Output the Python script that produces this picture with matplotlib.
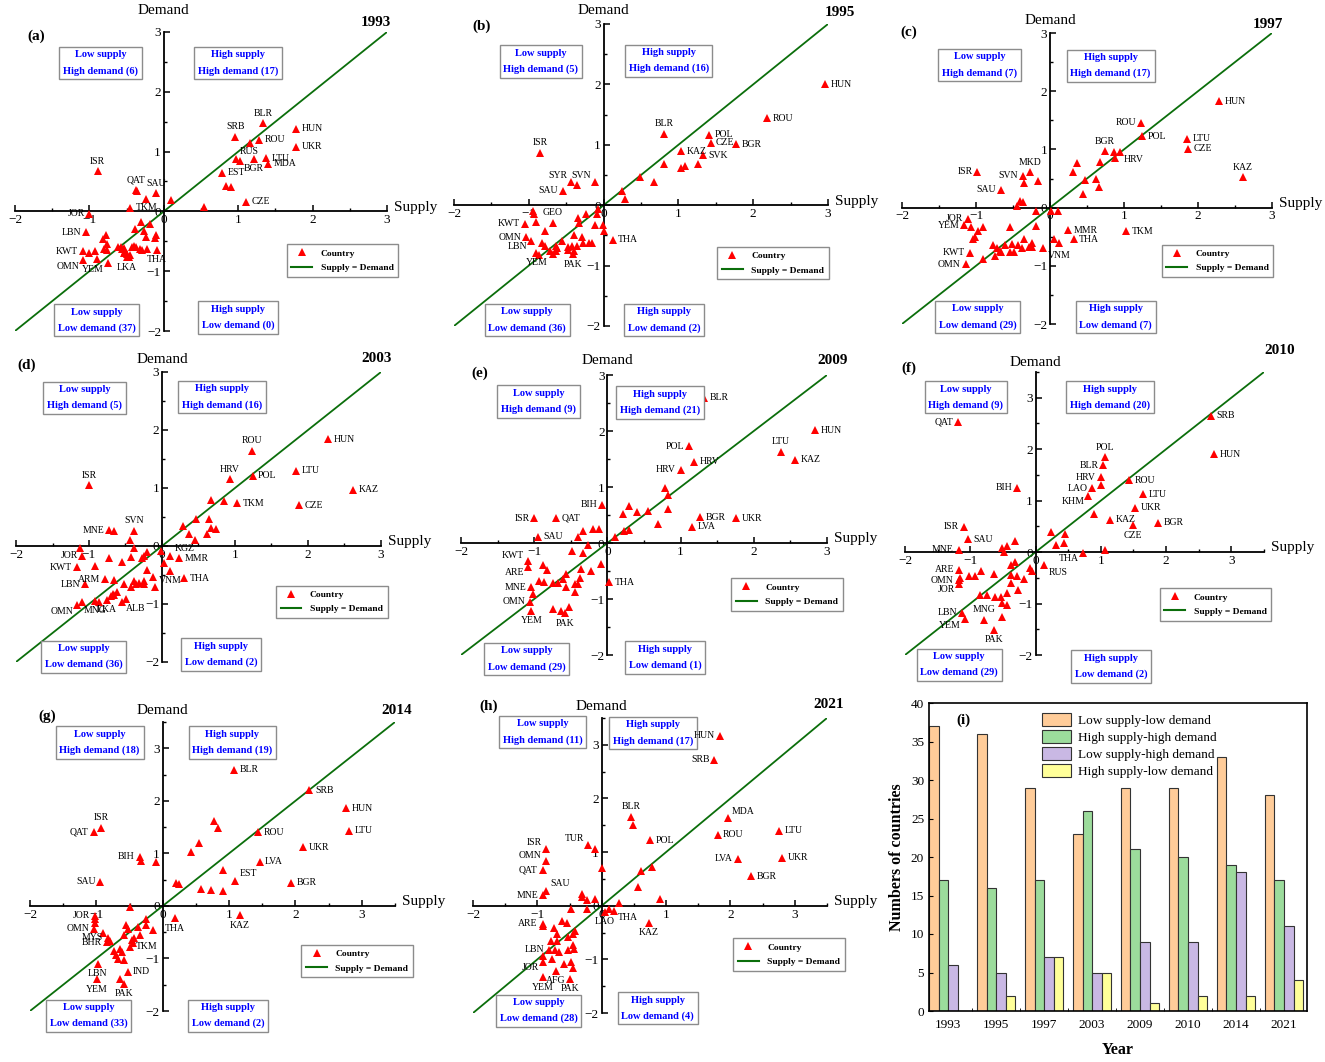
import matplotlib.pyplot as plt
import numpy as np
from matplotlib.lines import Line2D
from matplotlib.ticker import MultipleLocator

plt.rcParams['font.family'] = ['Liberation Serif', 'DejaVu Serif']

W, H = 1325, 1062

# ---------------- data ----------------
years = ['1993', '1995', '1997', '2003', '2009', '2010', '2014', '2021']
low_low = [37, 36, 29, 23, 29, 29, 33, 28]
high_high = [17, 16, 17, 26, 21, 20, 19, 17]
low_high = [6, 5, 7, 5, 9, 9, 18, 11]
high_low = [0, 2, 7, 5, 1, 2, 2, 4]

# quadrant counts written in the boxes: [LS-HD, HS-HD, LS-LD, HS-LD]
box_counts = {
    'a': [6, 17, 37, 0], 'b': [5, 16, 36, 2], 'c': [7, 17, 29, 7], 'd': [5, 16, 36, 2],
    'e': [9, 21, 29, 1], 'f': [9, 20, 29, 2], 'g': [18, 19, 33, 2], 'h': [11, 17, 28, 4],
}

# (a) 1993
a_lab = [('BLR', 1.34, 1.47), ('SRB', 0.96, 1.25), ('HUN', 1.78, 1.38), ('ROU', 1.28, 1.20),
         ('UKR', 1.78, 1.08), ('RUS', 0.97, 0.88), ('LTU', 1.37, 0.89), ('MDA', 1.40, 0.80),
         ('BGR', 1.21, 0.88), ('EST', 0.78, 0.65), ('CZE', 1.10, 0.16), ('ISR', -0.89, 0.67),
         ('QAT', -0.38, 0.36), ('SAU', -0.10, 0.30), ('TKM', -0.45, 0.06), ('JOR', -1.00, -0.04),
         ('LBN', -1.04, -0.35), ('KWT', -1.09, -0.67), ('OMN', -1.08, -0.82), ('YEM', -0.75, -0.87),
         ('LKA', -0.50, -0.77), ('THA', -0.09, -0.64)]
a_oth = [(1.16, 1.14), (1.03, 0.84), (0.83, 0.43), (0.90, 0.41), (0.54, 0.07), (0.10, 0.19),
         (-0.36, 0.34), (-0.24, 0.21), (-1.01, -0.69), (-0.93, -0.67), (-0.90, -0.80),
         (-0.78, -0.39), (-0.82, -0.46), (-0.77, -0.55), (-0.81, -0.63), (-0.76, -0.64),
         (-0.31, -0.18), (-0.39, -0.29), (-0.26, -0.32), (-0.18, -0.21), (-0.24, -0.42),
         (-0.12, -0.45), (-0.10, -0.39), (-0.57, -0.59), (-0.54, -0.61), (-0.52, -0.67),
         (-0.49, -0.72), (-0.47, -0.76), (-0.43, -0.60), (-0.37, -0.59), (-0.32, -0.63),
         (-0.29, -0.65), (-0.40, -0.58), (-0.45, -0.73), (-0.56, -0.63), (-0.53, -0.70),
         (-0.61, -0.59), (-0.22, -0.63)]

# (b) 1995
b_lab = [('HUN', 2.96, 2.00), ('ROU', 2.18, 1.44), ('BLR', 0.81, 1.18), ('POL', 1.41, 1.17),
         ('CZE', 1.43, 1.03), ('BGR', 1.77, 1.01), ('KAZ', 1.04, 0.89), ('SVK', 1.33, 0.83),
         ('ISR', -0.85, 0.87), ('SYR', -0.43, 0.39), ('SVN', -0.12, 0.39), ('SAU', -0.54, 0.24),
         ('GEO', -0.68, -0.29), ('KWT', -1.05, -0.31), ('OMN', -1.04, -0.53), ('LBN', -0.97, -0.59),
         ('YEM', -0.90, -0.79), ('PAK', -0.41, -0.81), ('THA', 0.12, -0.57)]
b_oth = [(1.26, 0.69), (1.09, 0.65), (1.04, 0.61), (0.81, 0.68), (0.68, 0.39), (0.48, 0.46),
         (0.24, 0.24), (0.28, 0.10), (-0.36, 0.33), (0.01, -0.42), (-0.94, -0.09), (-0.90, -0.27),
         (-0.79, -0.43), (-0.82, -0.63), (-0.79, -0.68), (-0.87, -0.82), (-0.67, -0.81),
         (-0.64, -0.76), (-0.62, -0.71), (-0.63, -0.67), (-0.56, -0.59), (-0.47, -0.69),
         (-0.48, -0.74), (-0.40, -0.76), (-0.40, -0.49), (-0.29, -0.53), (-0.27, -0.63),
         (-0.36, -0.68), (-0.16, -0.63), (-0.34, -0.22), (-0.33, -0.29), (-0.24, -0.15),
         (-0.12, -0.33), (-0.08, -0.06), (-0.09, -0.14), (-0.01, -0.32), (-0.93, -0.14),
         (-0.71, -0.76), (-0.42, -0.67), (-0.20, -0.63)]

# (c) 1997
c_lab = [('HUN', 2.28, 1.83), ('ROU', 1.23, 1.46), ('POL', 1.24, 1.23), ('LTU', 1.85, 1.18),
         ('CZE', 1.87, 1.01), ('KAZ', 2.61, 0.52), ('BGR', 0.74, 0.97), ('HRV', 0.94, 0.95),
         ('ISR', -0.98, 0.62), ('MKD', -0.27, 0.61), ('SVN', -0.37, 0.55), ('SAU', -0.66, 0.31),
         ('JOR', -1.11, -0.19), ('YEM', -1.16, -0.30), ('KWT', -1.08, -0.78), ('OMN', -1.14, -0.97),
         ('TKM', 1.03, -0.41), ('MMR', 0.24, -0.39), ('THA', 0.32, -0.54), ('VNM', -0.09, -0.70)]
c_oth = [(0.86, 0.95), (0.37, 0.77), (0.68, 0.78), (0.31, 0.62), (0.47, 0.47), (0.62, 0.49),
         (0.66, 0.36), (0.45, 0.23), (0.88, 0.85), (-0.35, 0.43), (-0.16, 0.45), (-0.41, 0.12),
         (-0.37, 0.10), (-0.44, 0.02), (0.11, -0.05), (0.05, -0.54), (0.12, -0.60), (0.01, -0.05),
         (-1.07, -0.34), (-0.91, -0.34), (-0.54, -0.33), (-0.19, -0.32), (-1.01, -0.51),
         (-1.04, -0.54), (-0.90, -0.89), (-0.74, -0.83), (-0.77, -0.64), (-0.71, -0.70),
         (-0.68, -0.74), (-0.66, -0.77), (-0.54, -0.77), (-0.48, -0.77), (-0.52, -0.63),
         (-0.43, -0.64), (-0.38, -0.70), (-0.35, -0.54), (-0.25, -0.60), (-0.24, -0.67),
         (-0.19, -0.06), (-0.61, -0.64), (-0.29, -0.67), (-0.97, -0.41)]

# (d) 2003
d_lab = [('HUN', 2.28, 1.84), ('ROU', 1.23, 1.64), ('HRV', 0.93, 1.15), ('POL', 1.24, 1.21),
         ('LTU', 1.84, 1.30), ('KAZ', 2.62, 0.97), ('CZE', 1.88, 0.70), ('TKM', 1.03, 0.74),
         ('ISR', -1.00, 1.05), ('MNE', -0.72, 0.27), ('SVN', -0.38, 0.26), ('JOR', -1.09, -0.17),
         ('KWT', -1.17, -0.37), ('ARM', -0.78, -0.57), ('LBN', -1.05, -0.66), ('LKA', -0.76, -0.93),
         ('ALB', -0.55, -0.96), ('OMN', -1.16, -1.02), ('MNG', -0.92, -0.94), ('KGZ', 0.11, -0.17),
         ('MMR', 0.23, -0.21), ('VNM', 0.11, -0.43), ('THA', 0.30, -0.56)]
d_oth = [(0.67, 0.79), (0.85, 0.77), (0.47, 0.47), (0.65, 0.47), (0.29, 0.35), (0.37, 0.21),
         (0.45, 0.10), (0.67, 0.31), (0.74, 0.30), (0.62, 0.20), (-0.66, 0.25), (-0.44, 0.10),
         (0.03, -0.30), (-0.01, -0.09), (-1.12, -0.03), (-0.92, -0.35), (-0.72, -0.21),
         (-0.55, -0.27), (-0.42, -0.19), (-0.38, -0.03), (-0.28, -0.20), (-0.25, -0.17),
         (-0.20, -0.11), (-0.20, -0.41), (-0.66, -0.59), (-0.52, -0.66), (-0.43, -0.70),
         (-0.38, -0.61), (-0.35, -0.65), (-0.25, -0.60), (-0.10, -0.70), (-0.67, -0.82),
         (-0.66, -0.85), (-0.70, -0.87), (-0.49, -0.91), (-1.09, -0.96), (-0.25, -0.65),
         (-0.86, -0.97), (-0.61, -0.80), (-0.31, -0.63), (-0.12, -0.54)]

# (e) 2009
e_lab = [('BLR', 1.32, 2.59), ('HUN', 2.84, 2.01), ('LTU', 2.37, 1.63), ('KAZ', 2.56, 1.49),
         ('POL', 1.12, 1.73), ('HRV', 1.18, 1.45), ('HRV', 1.00, 1.31), ('BIH', -0.07, 0.68),
         ('ISR', -1.00, 0.44), ('QAT', -0.70, 0.44), ('SAU', -0.95, 0.11), ('BGR', 1.26, 0.46),
         ('LVA', 1.16, 0.29), ('UKR', 1.76, 0.44), ('KWT', -1.09, -0.33), ('ARE', -1.08, -0.43),
         ('MNE', -1.04, -0.79), ('OMN', -1.06, -1.05), ('YEM', -1.04, -1.21), ('PAK', -0.58, -1.25),
         ('THA', 0.02, -0.70)]
e_oth = [(0.79, 0.98), (0.83, 0.86), (0.83, 0.61), (0.29, 0.66), (0.21, 0.52), (0.40, 0.55),
         (0.56, 0.58), (0.69, 0.34), (0.23, 0.22), (0.29, 0.24), (0.11, 0.10), (-0.34, 0.21),
         (-0.19, 0.25), (-0.11, 0.25), (-0.40, 0.10), (-0.88, -0.40), (-0.83, -0.49),
         (-0.48, -0.14), (-0.33, -0.18), (-0.27, -0.03), (-0.09, -0.37), (-0.22, -0.50),
         (-0.36, -0.46), (-0.57, -0.56), (-0.60, -0.64), (-0.37, -0.62), (-0.94, -0.68),
         (-0.86, -0.69), (-0.75, -0.71), (-0.68, -0.71), (-0.56, -0.78), (-0.44, -0.74),
         (-0.40, -0.74), (-0.44, -0.87), (-1.02, -0.91), (-0.75, -1.18), (-0.63, -1.21),
         (-0.53, -1.15)]

# (f) 2010
f_lab = [('SRB', 2.69, 2.65), ('HUN', 2.73, 1.90), ('QAT', -1.19, 2.52), ('POL', 1.06, 1.84),
         ('BLR', 1.04, 1.69), ('HRV', 1.00, 1.45), ('LAO', 0.87, 1.24), ('KHM', 0.81, 1.09),
         ('ROU', 1.43, 1.40), ('LTU', 1.65, 1.12), ('UKR', 1.52, 0.86), ('KAZ', 1.14, 0.63),
         ('CZE', 1.49, 0.52), ('BGR', 1.88, 0.57), ('BIH', -0.28, 1.25), ('ISR', -1.10, 0.49),
         ('SAU', -1.04, 0.25), ('MNE', -1.18, 0.05), ('THA', 0.72, -0.01), ('RUS', 0.13, -0.25),
         ('ARE', -1.17, -0.34), ('OMN', -1.18, -0.55), ('JOR', -1.17, -0.62), ('LBN', -1.13, -1.18),
         ('YEM', -1.08, -1.31), ('MNG', -0.79, -1.32), ('PAK', -0.63, -1.51)]
f_oth = [(1.01, 1.31), (0.89, 0.75), (0.23, 0.40), (0.45, 0.36), (0.32, 0.14), (0.43, 0.18),
         (1.06, 0.05), (-0.52, 0.07), (-0.44, 0.12), (-0.32, 0.21), (-0.49, 0.01),
         (-1.16, -0.51), (-1.02, -0.47), (-0.93, -0.47), (-0.84, -0.37), (-0.64, -0.42),
         (-0.37, -0.25), (-0.32, -0.19), (-0.38, -0.44), (-0.29, -0.47), (-0.18, -0.53),
         (-0.37, -0.61), (-0.27, -0.74), (-0.09, -0.31), (-0.05, -0.36), (-0.85, -0.84),
         (-0.75, -0.84), (-0.62, -0.87), (-0.53, -0.87), (-0.44, -0.79), (-0.52, -0.99),
         (-0.43, -1.02), (-0.51, -1.26)]

# (g) 2014
g_lab = [('BLR', 1.08, 2.59), ('SRB', 2.21, 2.20), ('HUN', 2.76, 1.86), ('LTU', 2.81, 1.43),
         ('ROU', 1.44, 1.40), ('UKR', 2.12, 1.12), ('LVA', 1.46, 0.84), ('BGR', 1.93, 0.44),
         ('EST', 1.09, 0.48), ('ISR', -0.93, 1.49), ('QAT', -1.04, 1.41), ('BIH', -0.35, 0.94),
         ('SAU', -0.94, 0.46), ('THA', 0.18, -0.23), ('KAZ', 1.16, -0.18), ('JOR', -1.02, -0.19),
         ('OMN', -1.03, -0.43), ('MYS', -0.83, -0.61), ('BHR', -0.84, -0.69), ('TKM', -0.49, -0.78),
         ('LBN', -0.98, -1.10), ('IND', -0.53, -1.25), ('YEM', -0.99, -1.40), ('PAK', -0.59, -1.48)]
g_oth = [(0.78, 1.62), (0.83, 1.48), (0.54, 1.20), (0.42, 1.03), (0.91, 0.69), (0.20, 0.44),
         (0.24, 0.41), (0.57, 0.32), (0.73, 0.31), (0.91, 0.29), (-0.33, 0.86), (-0.10, 0.83),
         (-0.50, -0.03), (-1.02, -0.25), (-1.02, -0.32), (-0.90, -0.52), (-0.55, -0.37),
         (-0.53, -0.43), (-0.59, -0.55), (-0.38, -0.40), (-0.25, -0.24), (-0.25, -0.37),
         (-0.15, -0.45), (-0.35, -0.55), (-0.46, -0.64), (-0.45, -0.70), (-0.74, -0.85),
         (-0.61, -0.88), (-0.70, -0.93), (-0.67, -1.01), (-0.58, -1.02), (-0.64, -1.39),
         (-0.80, -0.66), (-0.65, -0.82), (-0.43, -0.61)]

# (h) 2021
h_lab = [('HUN', 1.84, 3.17), ('SRB', 1.75, 2.72), ('MDA', 1.96, 1.63), ('LTU', 2.75, 1.40),
         ('ROU', 1.80, 1.32), ('LVA', 2.11, 0.88), ('UKR', 2.80, 0.89), ('BGR', 2.32, 0.55),
         ('BLR', 0.46, 1.66), ('POL', 0.75, 1.22), ('ISR', -0.87, 1.06), ('OMN', -0.87, 0.83),
         ('QAT', -0.92, 0.66), ('TUR', -0.21, 1.14), ('SAU', -0.87, 0.27), ('MNE', -0.91, 0.20),
         ('THA', 0.19, -0.09), ('LAO', 0.05, -0.11), ('KAZ', 0.73, -0.32), ('ARE', -0.92, -0.34),
         ('LBN', -0.82, -0.82), ('JOR', -0.91, -1.04), ('AFG', -0.71, -1.21), ('YEM', -0.91, -1.33),
         ('PAK', -0.49, -1.36)]
h_oth = [(0.48, 1.50), (0.61, 0.64), (0.78, 0.73), (0.57, 0.34), (0.91, 0.12), (0.27, 0.05),
         (0.01, 0.70), (-0.11, 1.06), (-0.31, 0.22), (-0.30, 0.16), (-0.23, 0.11), (-0.10, 0.13),
         (0.12, -0.06), (-0.92, -0.37), (-0.47, -0.06), (-0.23, -0.06), (-0.74, -0.42),
         (-0.70, -0.52), (-0.61, -0.28), (-0.54, -0.32), (-0.41, -0.48), (-0.45, -0.53),
         (-0.53, -0.58), (-0.79, -0.66), (-0.70, -0.65), (-0.44, -0.74), (-0.43, -0.80),
         (-0.52, -0.83), (-0.73, -0.82), (-0.67, -0.86), (-0.91, -0.94), (-0.78, -0.99),
         (-0.58, -1.09), (-0.48, -1.04), (-0.45, -1.16)]

# ---------------- label placement (style) ----------------
a_side = 'a a r r r ar r r b r r a a a r l l l bl bl b b'.split()
b_side = 'r r a r r r r r a al al l a l l bl b b r'.split()
c_side = 'r l r r r a a br l a l l l l l l r r r br'.split()
d_side = 'r a a r r r r r a l a l l l l b br bl b ar r b r'.split()
e_side = 'r r a r l r l l l r r r r r al bl l l b b r'.split()
f_side = 'r r l a l l l bl r r r r b r l l r l bl br l l bl l bl a b'.split()
g_side = 'r r r r r r r r ar a l l l b b l l l l r b r b b'.split()
h_side = 'l l ar r r l r r a r al al l al ar l br b b l l bl b b b'.split()

SIDES = {'r': ((4, 0), 'left', 'center'), 'l': ((-3.5, 0), 'right', 'center'),
         'a': ((0, 4), 'center', 'bottom'), 'b': ((0, -4), 'center', 'top'),
         'ar': ((3, 2), 'left', 'bottom'), 'al': ((-3, 1), 'right', 'bottom'),
         'br': ((3, -2), 'left', 'top'), 'bl': ((-3, -1), 'right', 'top')}

# panel layout: pixel extent (left, top, right, bottom), upper limit, box centres,
# legend anchor, gap of the "Demand" title, letter and year positions (pixels)
PANELS = [
    dict(k='a', lab=a_lab, oth=a_oth, side=a_side, px=(15, 32, 387, 331), hi=3.0,
         boxes=[(-0.85, 2.48), (1.0, 2.48), (-0.90, -1.82), (1.0, -1.77)], leg=(1.65, -1.09),
         dem=21, let=(36, 36), yr=(376, 22)),
    dict(k='b', lab=b_lab, oth=b_oth, side=b_side, px=(454, 24, 828, 326), hi=3.0,
         boxes=[(-0.84, 2.38), (0.87, 2.39), (-1.02, -1.90), (0.81, -1.90)], leg=(1.52, -1.23),
         dem=13, let=(482, 26), yr=(840, 12)),
    dict(k='c', lab=c_lab, oth=c_oth, side=c_side, px=(902, 33, 1272, 324), hi=3.0,
         boxes=[(-0.95, 2.45), (0.82, 2.44), (-0.98, -1.88), (0.89, -1.88)], leg=(1.51, -1.19),
         dem=13, let=(909, 32), yr=(1268, 25)),
    dict(k='d', lab=d_lab, oth=d_oth, side=d_side, px=(16, 372, 381, 662), hi=3.0,
         boxes=[(-1.06, 2.56), (0.82, 2.57), (-1.07, -1.91), (0.81, -1.87)], leg=(1.56, -1.24),
         dem=12, let=(27, 365), yr=(377, 358)),
    dict(k='e', lab=e_lab, oth=e_oth, side=e_side, px=(461, 375, 827, 655), hi=3.0,
         boxes=[(-0.94, 2.53), (0.72, 2.51), (-1.10, -2.07), (0.79, -2.04)], leg=(1.69, -1.21),
         dem=14, let=(480, 373), yr=(833, 360)),
    dict(k='f', lab=f_lab, oth=f_oth, side=f_side, px=(905, 372, 1264, 655), hi=3.5,
         boxes=[(-1.07, 3.01), (1.14, 3.01), (-1.17, -2.19), (1.16, -2.22)], leg=(1.90, -1.33),
         dem=10, let=(909, 368), yr=(1280, 350)),
    dict(k='g', lab=g_lab, oth=g_oth, side=g_side, px=(30, 722, 395, 1011), hi=3.5,
         boxes=[(-0.95, 3.11), (1.05, 3.11), (-1.12, -2.09), (0.99, -2.09)], leg=(2.09, -1.36),
         dem=11, let=(47, 716), yr=(397, 711)),
    dict(k='h', lab=h_lab, oth=h_oth, side=h_side, px=(473, 718, 827, 1013), hi=3.5,
         boxes=[(-0.92, 3.24), (0.80, 3.22), (-0.98, -1.96), (0.87, -1.91)], leg=(2.04, -1.21),
         dem=11, let=(489, 706), yr=(829, 705)),
]
BOX_TXT = ['Low supply\nHigh demand ({})', 'High supply\nHigh demand ({})',
           'Low supply\nLow demand ({})', 'High supply\nLow demand ({})']

GREEN = '#0b6e0b'
RED = '#ff0000'

fig = plt.figure(figsize=(W / 100, H / 100), dpi=100)


def fig_axes(l, t, r, b):
    return fig.add_axes([l / W, 1 - b / H, (r - l) / W, (b - t) / H])


for i, p in enumerate(PANELS):
    ax = fig_axes(*p['px'])
    lo, hi = -2.0, p['hi']
    ax.set_xlim(lo, hi)
    ax.set_ylim(lo, hi)
    ax.patch.set_visible(False)
    for s in ['top', 'right']:
        ax.spines[s].set_visible(False)
    for s in ['left', 'bottom']:
        ax.spines[s].set_position(('data', 0))
        ax.spines[s].set_linewidth(1.3)
    ax.set_xticks(range(-2, 4))
    ax.set_yticks(range(-2, 4))
    ax.xaxis.set_minor_locator(MultipleLocator(0.5))
    ax.yaxis.set_minor_locator(MultipleLocator(0.5))
    ax.tick_params(which='major', direction='in', length=4, width=1.1, labelsize=9.5, pad=2)
    ax.tick_params(which='minor', direction='in', length=2, width=1)

    # supply = demand line
    ax.plot([lo, hi], [lo, hi], color=GREEN, lw=1.3, zorder=2)

    ox = [q[0] for q in p['oth']]
    oy = [q[1] for q in p['oth']]
    lx = [q[1] for q in p['lab']]
    ly = [q[2] for q in p['lab']]
    ax.plot(ox + lx, oy + ly, ls='none', marker='^', color=RED, ms=5.5, mew=0, zorder=3,
            clip_on=False)
    for (name, x, y), sd in zip(p['lab'], p['side']):
        off, ha, va = SIDES[sd]
        ax.annotate(name, (x, y), xytext=off, textcoords='offset points', ha=ha, va=va,
                    fontsize=7, zorder=6)

    for (bx, by), txt, n in zip(p['boxes'], BOX_TXT, box_counts[p['k']]):
        ax.text(bx, by, txt.format(n), ha='center', va='center', ma='center', fontsize=7.5,
                fontweight='bold', color='#0000ff', linespacing=1.9, zorder=5,
                bbox=dict(boxstyle='square,pad=0.35', fc='white', ec='#8c8c8c', lw=1))

    ax.annotate('Demand', (0, hi), xytext=(0, p['dem'] * 0.72), textcoords='offset points',
                ha='center', va='center', fontsize=11)
    ax.annotate('Supply', (hi, 0), xytext=(5, 3), textcoords='offset points',
                ha='left', va='center', fontsize=11)

    handles = [Line2D([], [], ls='none', marker='^', color=RED, ms=5.5, mew=0),
               Line2D([], [], color=GREEN, lw=1.5)]
    leg = ax.legend(handles, ['Country', 'Supply = Demand'], loc='lower left',
                    bbox_to_anchor=p['leg'], bbox_transform=ax.transData, borderaxespad=0,
                    prop={'weight': 'bold', 'size': 6.8}, fancybox=False, edgecolor='#8c8c8c',
                    framealpha=1, handlelength=2.2, handletextpad=0.9, borderpad=0.5,
                    labelspacing=0.6)
    leg.get_frame().set_linewidth(1)

    fig.text(p['let'][0] / W, 1 - p['let'][1] / H, '({})'.format(p['k']), ha='center',
             va='center', fontsize=11, fontweight='bold')
    fig.text(p['yr'][0] / W, 1 - p['yr'][1] / H, years[i], ha='center',
             va='center', fontsize=11, fontweight='bold')

# ---------------- (i) bar chart ----------------
axb = fig_axes(929, 703, 1307, 1011)
xpos = np.arange(len(years))
bw = 0.2
series = [('Low supply-low demand', low_low, '#ffcc99'),
          ('High supply-high demand', high_high, '#9cdc9c'),
          ('Low supply-high demand', low_high, '#c9b8e4'),
          ('High supply-low demand', high_low, '#ffff99')]
for j, (name, vals, col) in enumerate(series):
    axb.bar(xpos + (j - 1.5) * bw, vals, width=bw, color=col, edgecolor='#333333', lw=0.8,
            label=name)
axb.set_xlim(-0.4, 7.48)
axb.set_ylim(0, 40)
axb.set_yticks(range(0, 41, 5))
axb.set_xticks(xpos)
axb.set_xticklabels(years)
axb.set_xticks(xpos[:-1] + 0.5, minor=True)
axb.tick_params(axis='x', which='major', length=0, labelsize=9.5, pad=6)
axb.tick_params(axis='x', which='minor', direction='in', length=2.5)
axb.tick_params(axis='y', direction='in', length=3, labelsize=9.5)
for s in axb.spines.values():
    s.set_linewidth(1.2)
axb.set_xlabel('Year', fontsize=11.5, fontweight='bold', labelpad=8)
axb.set_ylabel('Numbers of countries', fontsize=11.5, fontweight='bold', labelpad=4)
axb.legend(loc='upper left', bbox_to_anchor=(0.285, 0.985), frameon=False, fontsize=9.5,
           handlelength=2.2, handleheight=1.1, labelspacing=0.25, handletextpad=0.5,
           borderaxespad=0)
fig.text(963 / W, 1 - 720 / H, '(i)', ha='center', va='center', fontsize=11, fontweight='bold')

fig.savefig('out.png', dpi=100)
